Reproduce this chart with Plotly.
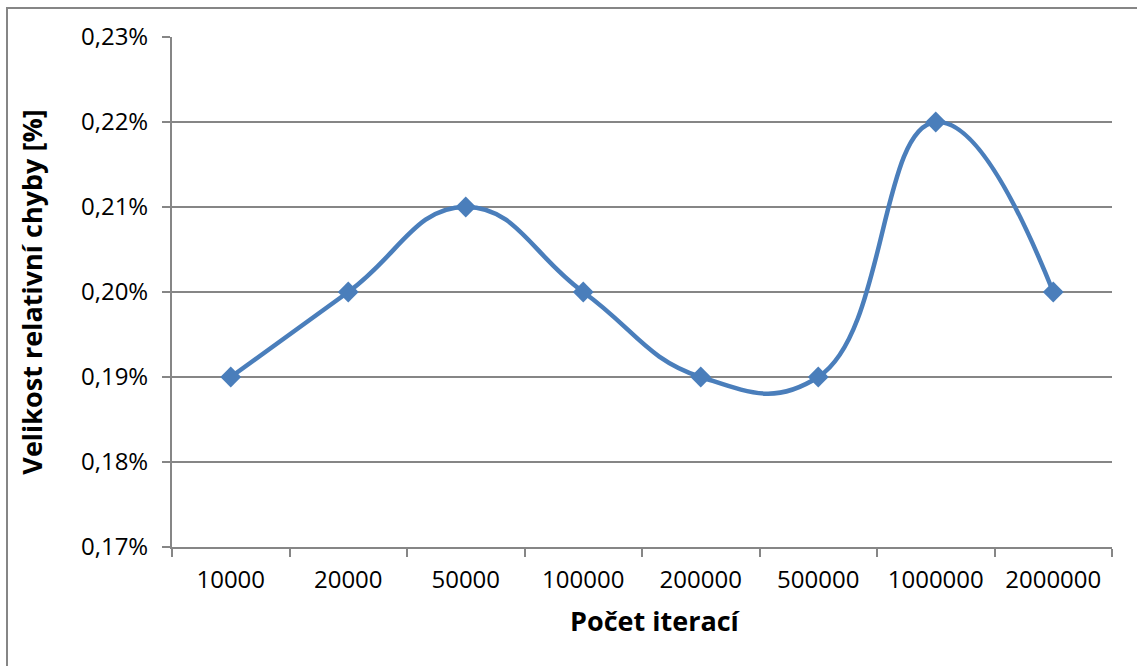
import plotly.graph_objects as go

# Počet iterací vs. velikost relativní chyby
iterace = ["10000", "20000", "50000", "100000", "200000", "500000", "1000000", "2000000"]
chyba = [0.0019, 0.0020, 0.0021, 0.0020, 0.0019, 0.0019, 0.0022, 0.0020]

y_ticks = [0.0017, 0.0018, 0.0019, 0.0020, 0.0021, 0.0022, 0.0023]

W, H = 1137, 666
L, R, T, B = 172, 1112, 37, 547
pw, ph = R - L, B - T

line_col = "#4a7ebb"
axis_col = "#868686"
font_fam = "Open Sans, Lato, Arial, sans-serif"

fig = go.Figure()
fig.add_trace(go.Scatter(
    x=iterace, y=chyba,
    mode="lines+markers",
    line=dict(color=line_col, width=4.5, shape="spline", smoothing=1.3),
    marker=dict(symbol="diamond", size=16, color=line_col),
    hoverinfo="x+y",
))

# outer chart frame
fig.add_shape(type="rect", xref="paper", yref="paper",
              x0=(7 - L) / pw, x1=(W + 20 - L) / pw,
              y0=(B - (H + 20)) / ph, y1=(B - 8) / ph,
              line=dict(color=axis_col, width=2), fillcolor="rgba(0,0,0,0)",
              layer="below")

# x-axis title as an annotation (slightly right of the plot centre)
fig.add_annotation(
    text="<b>Počet iterací</b>", xref="paper", yref="paper",
    x=(655 - L) / pw, y=(B - 620) / ph, xanchor="center", yanchor="middle",
    showarrow=False, font=dict(size=27, family=font_fam, color="black"),
)

fig.update_layout(
    width=W, height=H,
    margin=dict(l=L, r=W - R, t=T, b=H - B, pad=0),
    paper_bgcolor="white", plot_bgcolor="white",
    separators=", ",
    showlegend=False,
    font=dict(family=font_fam, color="black", size=24),
    xaxis=dict(
        type="category",
        range=[-0.5, len(iterace) - 0.5],
        tickson="boundaries",
        ticks="outside", ticklen=8, tickwidth=2, tickcolor=axis_col,
        showline=True, linecolor=axis_col, linewidth=2,
        showgrid=False, zeroline=False,
        ticklabelstandoff=10,
        tickfont=dict(size=24, family=font_fam),
    ),
    yaxis=dict(
        range=[y_ticks[0], y_ticks[-1]],
        tickvals=y_ticks,
        tickformat=".2%",
        ticks="outside", ticklen=8, tickwidth=2, tickcolor=axis_col,
        showline=True, linecolor=axis_col, linewidth=2,
        showgrid=True, gridcolor=axis_col, gridwidth=1.5,
        zeroline=False,
        ticklabelstandoff=9,
        tickfont=dict(size=24, family=font_fam),
        title=dict(text="<b>Velikost relativní chyby [%]</b>", font=dict(size=27, family=font_fam), standoff=31),
    ),
)

fig.write_html("out.html")
